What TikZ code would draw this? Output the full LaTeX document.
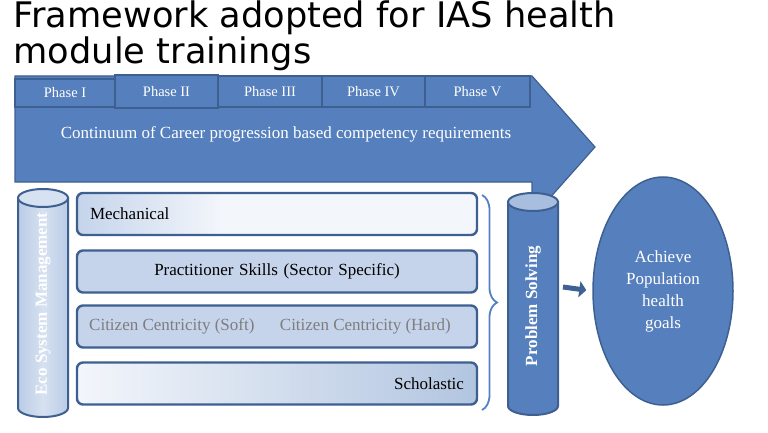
\documentclass[tikz,border=0pt]{standalone}
\usepackage{fontspec}
\setmainfont{Liberation Serif}
\newfontfamily\titlefont{DejaVu Sans}
\usetikzlibrary{shapes.geometric,arrows.meta,decorations.pathreplacing}
\definecolor{mainblue}{RGB}{86,128,189}
\definecolor{borderblue}{RGB}{62,96,145}
\definecolor{barblue}{RGB}{197,212,235}
\definecolor{barwhite}{RGB}{243,246,251}
\definecolor{scholblue}{RGB}{178,197,224}
\definecolor{cyltop}{RGB}{168,190,222}
\definecolor{cylblue}{RGB}{187,204,230}
\definecolor{cyllight}{RGB}{214,225,241}
\definecolor{textgray}{RGB}{125,125,125}
\definecolor{braceblue}{RGB}{84,128,196}
\definecolor{arrowblue}{RGB}{62,98,148}
\pgfdeclarehorizontalshading{mechshade}{100bp}{color(0bp)=(barblue); color(25bp)=(barblue); color(43bp)=(barwhite); color(100bp)=(barwhite)}
\begin{document}
\begin{tikzpicture}[x=1pt, y=-1pt,
    phasebox/.style={draw=borderblue, line width=2.2pt, fill=mainblue, text=white,
        inner sep=0pt, font=\fontsize{14.5}{17}\selectfont},
    bar/.style={draw=borderblue, line width=2.4pt, rounded corners=6pt, inner sep=0pt,
        minimum width=400pt, minimum height=42pt, text width=374pt,
        font=\fontsize{17}{20}\selectfont},
    cyltext/.style={rotate=90, text=white, inner sep=0pt, font=\bfseries\fontsize{17}{20}\selectfont}]
    \useasboundingbox (0,0) rectangle (768,433);

    % 1. Title
    \node[anchor=north west, align=left, inner sep=0pt, font=\titlefont\fontsize{35.2}{36}\selectfont]
        (title) at (13.5,0.5) {Framework adopted for IAS health\\module trainings};

    % 2. Big arrow with the phases
    \draw[borderblue, line width=1.2pt, fill=mainblue]
        (15,76) -- (532,76) -- (595,147) -- (532,218) -- (532,182) -- (15,182) -- cycle;
    \node[phasebox, minimum width=100pt, minimum height=28pt] (ph1) at (65,93) {Phase I};
    \node[phasebox, minimum width=103pt, minimum height=33pt] (ph2) at (166.5,91.5) {Phase II};
    \node[phasebox, minimum width=104pt, minimum height=31pt] (ph3) at (270,91.5) {Phase III};
    \node[phasebox, minimum width=103pt, minimum height=31pt] (ph4) at (373.5,91.5) {Phase IV};
    \node[phasebox, minimum width=105pt, minimum height=31pt] (ph5) at (477.5,91.5) {Phase V};
    \node[text=white, font=\fontsize{17}{20}\selectfont] (cont) at (286,134)
        {Continuum of Career progression based competency requirements};

    % 3. Cylinders
    \draw[borderblue, line width=2pt, left color=cylblue, right color=cylblue, middle color=cyllight]
        (18,198) -- (18,408) arc[start angle=180, end angle=360, x radius=25pt, y radius=9pt] -- (68,198) -- cycle;
    \draw[borderblue, line width=2pt, fill=cyllight] (43,198) ellipse[x radius=25pt, y radius=9pt];
    \node[cyltext] (eco) at (43,304) {Eco System Management};

    \draw[borderblue, line width=2pt, fill=mainblue]
        (508,202) -- (508,406) arc[start angle=180, end angle=360, x radius=25pt, y radius=9pt] -- (558,202) -- cycle;
    \draw[borderblue, line width=2pt, fill=cyltop] (533,202) ellipse[x radius=25pt, y radius=9pt];
    \node[cyltext] (solve) at (533,306) {Problem Solving};

    % 4. Bars
    \node[bar, shading=mechshade, align=left] (mech) at (277,214) {Mechanical};
    \node[bar, fill=barblue, align=center] (prac) at (277,271.5) {Practitioner Skills (Sector Specific)};
    \node[bar, fill=barblue] (citz) at (277,326.5) {};
    \node[anchor=west, inner sep=0pt, text=textgray, font=\fontsize{17}{20}\selectfont]
        (citzS) at (89,326) {Citizen Centricity (Soft)};
    \node[anchor=east, inner sep=0pt, text=textgray, font=\fontsize{17}{20}\selectfont]
        (citzH) at (451,326) {Citizen Centricity (Hard)};
    \node[bar, left color=barwhite, right color=scholblue, align=right] (schol) at (277,383.5) {Scholastic};

    % 5. Brace, goal and arrow
    \draw[braceblue, line width=1.8pt, decorate, decoration={brace, amplitude=15pt}] (482,195) -- (482,410);
    \node[ellipse, draw=borderblue, line width=1.5pt, fill=mainblue, minimum width=140pt, minimum height=228pt,
        text=white, align=center, inner sep=0pt, font=\fontsize{17}{22}\selectfont]
        (goal) at (663,291) {Achieve\\Population\\health\\goals};
    \coordinate (solveR) at (563,287);
    \draw[-{Triangle[length=7pt, width=16pt]}, arrowblue, line width=5pt, shorten >=6pt] (solveR) -- (goal.west);
\end{tikzpicture}
\end{document}
